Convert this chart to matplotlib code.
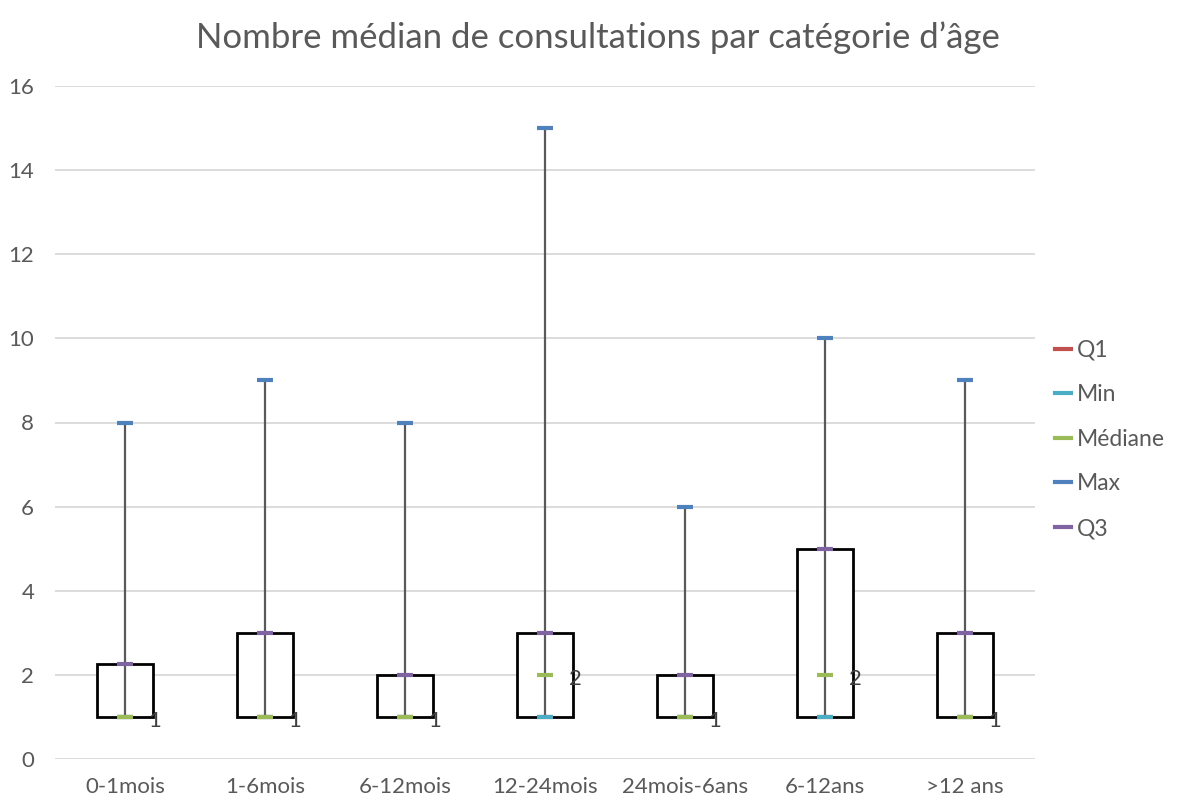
import matplotlib
matplotlib.use('Agg')
import matplotlib.pyplot as plt
from matplotlib.lines import Line2D

plt.rcParams['font.family'] = ['Lato', 'DejaVu Sans']

categories = ['0-1mois', '1-6mois', '6-12mois', '12-24mois', '24mois-6ans', '6-12ans', '>12 ans']
q1 = [1, 1, 1, 1, 1, 1, 1]
mins = [1, 1, 1, 1, 1, 1, 1]
medians = [1, 1, 1, 2, 1, 2, 1]
maxs = [8, 9, 8, 15, 6, 10, 9]
q3 = [2.25, 3, 2, 3, 2, 5, 3]

text_col = '#595959'
series = [('Q1', q1, '#C0504D'), ('Min', mins, '#4BACC6'), ('Médiane', medians, '#9BBB59'),
          ('Max', maxs, '#4F81BD'), ('Q3', q3, '#8064A2')]

fig = plt.figure(figsize=(11.8, 8), dpi=100)
ax = fig.add_axes([55/1180, 1-759/800, (1035-55)/1180, (759-86)/800])

x = list(range(len(categories)))
heights = [b - a for a, b in zip(q1, q3)]
ax.bar(x, heights, bottom=q1, width=0.4, facecolor='white', edgecolor='black', linewidth=2, zorder=2)
ax.vlines(x, mins, maxs, color='#595959', linewidth=1.6, zorder=3)

handles = []
for name, vals, col in series:
    ax.plot(x, vals, linestyle='none', marker='_', markersize=11, markeredgewidth=3, color=col, zorder=4)
    handles.append(Line2D([0], [0], color=col, linewidth=3))

for xi, m in zip(x, medians):
    ax.annotate(str(m), (xi, m), xytext=(17, -3), textcoords='offset points',
                ha='left', va='center', fontsize=16, color='#404040')

ax.set_xlim(-0.5, len(categories) - 0.5)
ax.set_ylim(0, 16)
ax.set_yticks(range(0, 17, 2))
ax.set_xticks(x)
ax.set_xticklabels(categories)
ax.yaxis.grid(True, color='#d9d9d9', linewidth=1.3)
ax.set_axisbelow(True)
for s in ax.spines.values():
    s.set_visible(False)
ax.tick_params(axis='y', length=0, pad=15, labelsize=16, labelcolor=text_col)
ax.tick_params(axis='x', length=0, pad=13, labelsize=16, labelcolor=text_col)

fig.text(598/1180, 1-38/800, 'Nombre médian de consultations par catégorie d’âge',
         ha='center', va='center', fontsize=25, color=text_col)

fig.legend(handles, [s[0] for s in series], loc='upper left', bbox_to_anchor=(1034/1180, 1-319/800),
           frameon=False, fontsize=16.5, labelcolor=text_col, handlelength=0.7, handletextpad=0.25,
           labelspacing=1.03)

fig.savefig('out.png', dpi=100)
